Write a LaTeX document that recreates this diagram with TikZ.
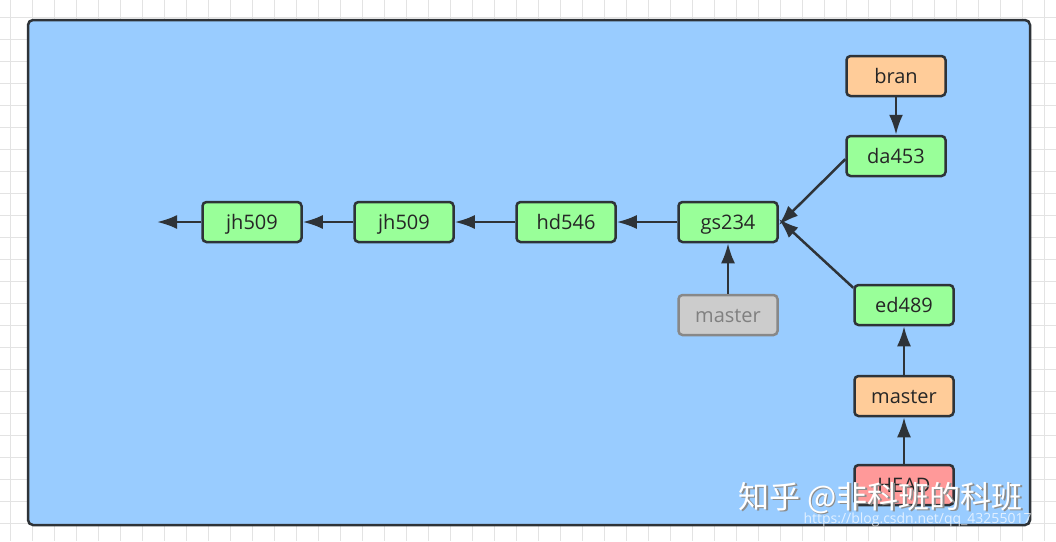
\documentclass[tikz,border=0pt]{standalone}
\usepackage{fontspec}
\setmainfont{Open Sans}
\newfontfamily\cjkfont{Noto Sans CJK SC}
\usetikzlibrary{arrows.meta}
\definecolor{panel}{HTML}{99CCFF}
\definecolor{edge}{HTML}{2E3338}
\definecolor{gridline}{HTML}{E3E3E3}
\definecolor{commitgreen}{HTML}{99FF99}
\definecolor{branchorange}{HTML}{FFCC99}
\definecolor{headred}{HTML}{FF9999}
\definecolor{oldgrey}{HTML}{CCCCCC}
\definecolor{oldedge}{HTML}{888888}
\tikzset{commit/.style = {draw=edge, fill=commitgreen, rounded corners=4pt, line width=2.5pt,
                          minimum width=99pt, minimum height=40pt, inner sep=0pt,
                          text height=16pt, text depth=2pt,
                          font=\fontsize{20}{23}\selectfont, text=black!85}}
\tikzset{branch/.style = {commit, fill=branchorange}}
\tikzset{headref/.style = {commit, fill=headred}}
\tikzset{oldref/.style = {commit, fill=oldgrey, draw=oldedge, text=black!50}}
\tikzset{link/.style = {draw=edge, line width=2.5pt, -{Latex[length=20pt,width=14pt]}}}

\begin{document}
\begin{tikzpicture}[x=1pt, y=-1pt]
      \useasboundingbox (0, 0) rectangle (1056, 541);
      \fill [white] (0, 0) rectangle (1056, 541);
      \foreach \gx in {10, 32, ..., 1056} {
        \draw [gridline, line width=1pt] (\gx, 0) -- (\gx, 541);
      }
      \foreach \gy in {17, 39, ..., 541} {
        \draw [gridline, line width=1pt] (0, \gy) -- (1056, \gy);
      }

      \draw [edge, fill=panel, line width=2.5pt, rounded corners=5pt] (28, 20) rectangle (1030, 525);

      % commits
      \node [commit] (jh1) at (252, 222) {jh509};
      \node [commit] (jh2) at (404, 222) {jh509};
      \node [commit] (hd) at (566, 222) {hd546};
      \node [commit] (gs) at (728, 222) {gs234};
      \node [commit] (da) at (896, 156) {da453};
      \node [commit] (ed) at (904, 305) {ed489};
      \coordinate (tail) at (157, 222);

      % references
      \node [oldref] (oldmaster) at (728, 315) {master};
      \node [branch] (bran) at (896, 76) {bran};
      \node [branch] (master) at (904, 396) {master};
      \node [headref] (head) at (904, 485) {HEAD};

      \draw [link] (jh1) -- (tail);
      \draw [link] (jh2) -- (jh1);
      \draw [link] (hd) -- (jh2);
      \draw [link] (gs) -- (hd);
      \draw [link] (oldmaster) -- (gs);
      \draw [link] (da.south west) ++(0, -18) -- ([yshift=-3pt] gs.east);
      \draw [link] (ed.north west) ++(0, 4) -- ([yshift=3pt] gs.east);
      \draw [link] (bran) -- (da);
      \draw [link] (master) -- (ed);
      \draw [link] (head) -- (master);

      % watermark
      \node [anchor=base west, text=black!45, font=\cjkfont\fontsize{31}{34}\selectfont] (wmshadow) at (736.5, 509.5) {知乎 @非科班的科班};
      \node [anchor=base west, text=white, font=\cjkfont\fontsize{31}{34}\selectfont] (wm) at (735, 508) {知乎 @非科班的科班};
      \node [anchor=base west, text=white, opacity=0.7, font=\fontsize{14}{16}\selectfont] (wmurl) at (800, 523) {https://blog.csdn.net/qq\_43255017};

    \end{tikzpicture}
\end{document}
